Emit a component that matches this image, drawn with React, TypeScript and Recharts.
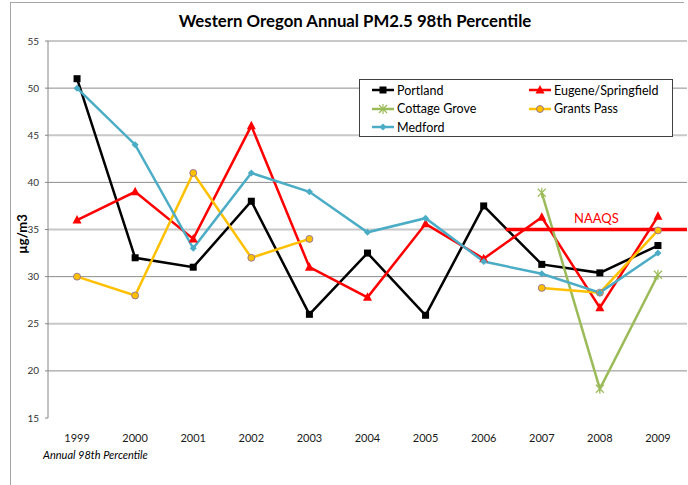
import React from 'react';
import { LineChart, Line, XAxis, YAxis, ReferenceLine, Legend } from 'recharts';

const years = [1999, 2000, 2001, 2002, 2003, 2004, 2005, 2006, 2007, 2008, 2009];
const portland = [51, 32, 31, 38, 26, 32.5, 25.9, 37.5, 31.3, 30.4, 33.3];
const eugene = [36, 39, 34, 46, 31, 27.8, 35.6, 31.9, 36.3, 26.7, 36.4];
const cottageGrove = [null, null, null, null, null, null, null, null, 38.9, 18.1, 30.2];
const grantsPass = [30, 28, 41, 32, 34, null, null, null, 28.8, 28.3, 34.9];
const medford = [50, 44, 33, 41, 39, 34.7, 36.2, 31.6, 30.3, 28.3, 32.5];

const yTicks = [15, 20, 25, 30, 35, 40, 45, 50, 55];
const gridValues = [20, 25, 30, 35, 40, 45, 50, 55];
const xDomain = [1998.5, 2009.5];
const boundaryTicks = [1998.5, 1999.5, 2000.5, 2001.5, 2002.5, 2003.5, 2004.5, 2005.5, 2006.5, 2007.5, 2008.5, 2009.5];
const naaqsValue = 35;
const naaqsRange = [2006.38, 2009.5];

const rows = years.map((year, i) => ({
  year,
  portland: portland[i],
  eugene: eugene[i],
  cottage: cottageGrove[i],
  grants: grantsPass[i],
  medford: medford[i],
}));

const FONT = 'Lato, "Open Sans", sans-serif';

type Shape = 'square' | 'triangle' | 'star' | 'circle' | 'diamond';

function marker(shape: Shape, cx: number, cy: number, key?: string | number) {
  switch (shape) {
    case 'square':
      return <rect key={key} x={cx - 3.5} y={cy - 3.5} width={7} height={7} fill="#000" />;
    case 'triangle':
      return (
        <polygon
          key={key}
          points={`${cx},${cy - 5} ${cx + 4.5},${cy + 3.5} ${cx - 4.5},${cy + 3.5}`}
          fill="#FF0000"
        />
      );
    case 'star':
      return (
        <g key={key} stroke="#9BBB59" strokeWidth={1.2}>
          <line x1={cx - 4} y1={cy - 4} x2={cx + 4} y2={cy + 4} />
          <line x1={cx - 4} y1={cy + 4} x2={cx + 4} y2={cy - 4} />
          <line x1={cx} y1={cy - 5} x2={cx} y2={cy + 5} />
        </g>
      );
    case 'circle':
      return <circle key={key} cx={cx} cy={cy} r={3.5} fill="#FFC000" stroke="#8064A2" strokeWidth={0.8} />;
    case 'diamond':
    default:
      return (
        <polygon
          key={key}
          points={`${cx},${cy - 3.5} ${cx + 3.5},${cy} ${cx},${cy + 3.5} ${cx - 3.5},${cy}`}
          fill="#4BACC6"
        />
      );
  }
}

const series: { key: string; name: string; color: string; shape: Shape }[] = [
  { key: 'portland', name: 'Portland', color: '#000000', shape: 'square' },
  { key: 'eugene', name: 'Eugene/Springfield', color: '#FF0000', shape: 'triangle' },
  { key: 'cottage', name: 'Cottage Grove', color: '#9BBB59', shape: 'star' },
  { key: 'grants', name: 'Grants Pass', color: '#FFC000', shape: 'circle' },
  { key: 'medford', name: 'Medford', color: '#4BACC6', shape: 'diamond' },
];

const makeDot = (shape: Shape) => (props: any) => {
  const { cx, cy, value, index } = props;
  if (value === null || value === undefined || cx == null || cy == null || isNaN(cy)) {
    return <g key={`e-${index}`} />;
  }
  return marker(shape, cx, cy, `d-${index}`);
};

const LegendBox = () => (
  <div
    style={{
      position: 'relative',
      width: 312,
      height: 56,
      border: '1px solid #404040',
      background: '#fff',
      fontFamily: FONT,
      fontSize: 12.5,
      color: '#000',
    }}
  >
    {series.map((s, i) => {
      const col = i % 2;
      const row = Math.floor(i / 2);
      return (
        <div
          key={s.key}
          style={{
            position: 'absolute',
            left: col ? 169 : 12,
            top: row * 18.6 + 1,
            height: 18,
            display: 'flex',
            alignItems: 'center',
            whiteSpace: 'nowrap',
          }}
        >
          <svg width={22} height={12} style={{ marginRight: 3 }}>
            <line x1={0} y1={6} x2={22} y2={6} stroke={s.color} strokeWidth={2.5} />
            {marker(s.shape, 11, 6)}
          </svg>
          <span>{s.name}</span>
        </div>
      );
    })}
  </div>
);

export default function App() {
  return (
    <div
      style={{
        position: 'absolute',
        left: 0,
        top: 0,
        width: 688,
        height: 485,
        overflow: 'hidden',
        background: '#fff',
        fontFamily: FONT,
      }}
    >
      <div
        style={{
          position: 'absolute',
          left: 10,
          top: 2,
          width: 673,
          height: 500,
          borderTop: '1px solid #a6a6a6',
          borderLeft: '1px solid #a6a6a6',
        }}
      />
      <div
        style={{
          position: 'absolute',
          left: 155,
          top: 11,
          width: 400,
          textAlign: 'center',
          fontWeight: 700,
          fontSize: 16.8,
          lineHeight: '20px',
          color: '#000',
        }}
      >
        Western Oregon Annual PM2.5 98th Percentile
      </div>
      <div
        style={{
          position: 'absolute',
          left: 22 - 40,
          top: 234 - 9,
          width: 80,
          height: 18,
          lineHeight: '18px',
          textAlign: 'center',
          transform: 'rotate(-90deg)',
          fontWeight: 700,
          fontSize: 13,
          color: '#000',
        }}
      >
        µg/m3
      </div>
      <div
        style={{
          position: 'absolute',
          left: 43,
          top: 448,
          fontStyle: 'italic',
          fontSize: 11,
          lineHeight: '14px',
          color: '#000',
        }}
      >
        Annual 98th Percentile
      </div>
      <div style={{ position: 'absolute', left: 0, top: 0 }}>
        <LineChart width={688} height={485} data={rows} margin={{ top: 41, right: 1, bottom: 43, left: 0 }}>
          <YAxis
            type="number"
            domain={[15, 55]}
            ticks={yTicks}
            interval={0}
            width={48}
            tickSize={3}
            tickMargin={6}
            axisLine={{ stroke: '#868686' }}
            tickLine={{ stroke: '#868686' }}
            tick={{ fontSize: 10, fill: '#333333', fontFamily: FONT }}
          />
          <XAxis
            xAxisId="b"
            dataKey="year"
            type="number"
            domain={xDomain}
            ticks={boundaryTicks}
            interval={0}
            tick={false}
            tickSize={5}
            height={0}
            axisLine={{ stroke: '#868686' }}
            tickLine={{ stroke: '#868686' }}
          />
          <XAxis
            xAxisId="y"
            dataKey="year"
            type="number"
            domain={xDomain}
            ticks={years}
            interval={0}
            tickLine={false}
            axisLine={false}
            tickSize={0}
            tickMargin={16}
            height={24}
            tick={{ fontSize: 11, fill: '#1a1a1a', fontFamily: FONT }}
          />
          {gridValues.map((v) => (
            <ReferenceLine
              key={v}
              xAxisId="y"
              y={v}
              stroke={(v / 5) % 2 === 0 ? '#8c8c8c' : '#c8c8c8'}
              strokeWidth={(v / 5) % 2 === 0 ? 1 : 2}
            />
          ))}
          <Legend
            layout="vertical"
            align="center"
            verticalAlign="middle"
            content={() => <LegendBox />}
            wrapperStyle={{ position: 'absolute', left: 359, top: 79, width: 314, height: 58 }}
          />
          {series.map((s) => (
            <Line
              key={s.key}
              xAxisId="y"
              dataKey={s.key}
              name={s.name}
              stroke={s.color}
              strokeWidth={2.5}
              dot={makeDot(s.shape)}
              activeDot={false}
              connectNulls={false}
              isAnimationActive={false}
            />
          ))}
          <ReferenceLine
            xAxisId="y"
            segment={[
              { x: naaqsRange[0], y: naaqsValue },
              { x: naaqsRange[1], y: naaqsValue },
            ]}
            stroke="#FF0000"
            strokeWidth={3.5}
            ifOverflow="visible"
            label={{ value: 'NAAQS', position: 'top', fill: '#FF0000', fontSize: 13, offset: 7, fontFamily: FONT }}
          />
        </LineChart>
      </div>
    </div>
  );
}
